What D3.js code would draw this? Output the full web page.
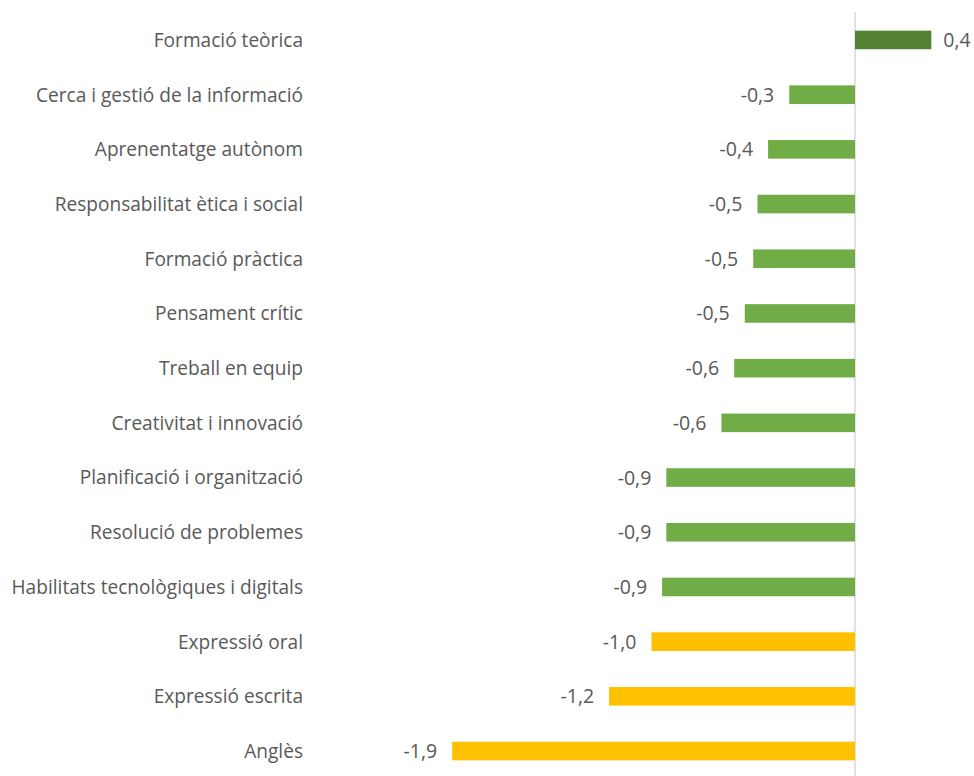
<!DOCTYPE html>
<html>
<head>
<meta charset="utf-8">
<script src="https://cdn.jsdelivr.net/npm/d3@7"></script>
<style>
  html, body { margin: 0; padding: 0; background: #ffffff; }
  svg { display: block; }
  text { font-family: "Open Sans", Lato, sans-serif; fill: #595959; }
</style>
</head>
<body>
<svg id="chart" width="974" height="776"></svg>
<script>
// Competències: diferència de valoració
const categories = [
  "Formació teòrica",
  "Cerca i gestió de la informació",
  "Aprenentatge autònom",
  "Responsabilitat ètica i social",
  "Formació pràctica",
  "Pensament crític",
  "Treball en equip",
  "Creativitat i innovació",
  "Planificació i organització",
  "Resolució de problemes",
  "Habilitats tecnològiques i digitals",
  "Expressió oral",
  "Expressió escrita",
  "Anglès"
];
const values = [0.36, -0.31, -0.41, -0.46, -0.48, -0.52, -0.57, -0.63, -0.89, -0.89, -0.91, -0.96, -1.16, -1.9];
const groups = ["top", "mid", "mid", "mid", "mid", "mid", "mid", "mid", "mid", "mid", "mid", "low", "low", "low"];
const groupColors = { top: "#548235", mid: "#70ad47", low: "#ffc000" };

const svg = d3.select("#chart");
const fmt = v => d3.format(".1f")(v).replace(".", ",").replace("−", "-");

const x = d3.scaleLinear().domain([-2, 0.5]).range([431, 961]);
const y = d3.scaleBand().domain(categories).range([12.6, 778.4]).paddingInner(0.66).paddingOuter(0.33);

// vertical zero line
svg.append("line")
  .attr("x1", x(0)).attr("x2", x(0))
  .attr("y1", 12).attr("y2", 776)
  .attr("stroke", "#d9d9d9").attr("stroke-width", 1.5);

const rows = categories.map((c, i) => ({ c, v: values[i], g: groups[i] }));

svg.append("g").selectAll("rect").data(rows).join("rect")
  .attr("x", d => x(Math.min(0, d.v)))
  .attr("width", d => Math.abs(x(d.v) - x(0)))
  .attr("y", d => y(d.c))
  .attr("height", y.bandwidth())
  .attr("fill", d => groupColors[d.g]);

// category labels
svg.append("g").selectAll("text").data(rows).join("text")
  .attr("x", 303)
  .attr("y", d => y(d.c) + y.bandwidth() / 2)
  .attr("dy", "0.36em")
  .attr("text-anchor", "end")
  .attr("font-size", 19.1)
  .text(d => d.c);

// value labels
svg.append("g").selectAll("text").data(rows).join("text")
  .attr("x", d => d.v < 0 ? x(d.v) - 15 : x(d.v) + 12)
  .attr("y", d => y(d.c) + y.bandwidth() / 2)
  .attr("dy", "0.36em")
  .attr("text-anchor", d => d.v < 0 ? "end" : "start")
  .attr("font-size", 19.5)
  .text(d => fmt(d.v));
</script>
</body>
</html>
